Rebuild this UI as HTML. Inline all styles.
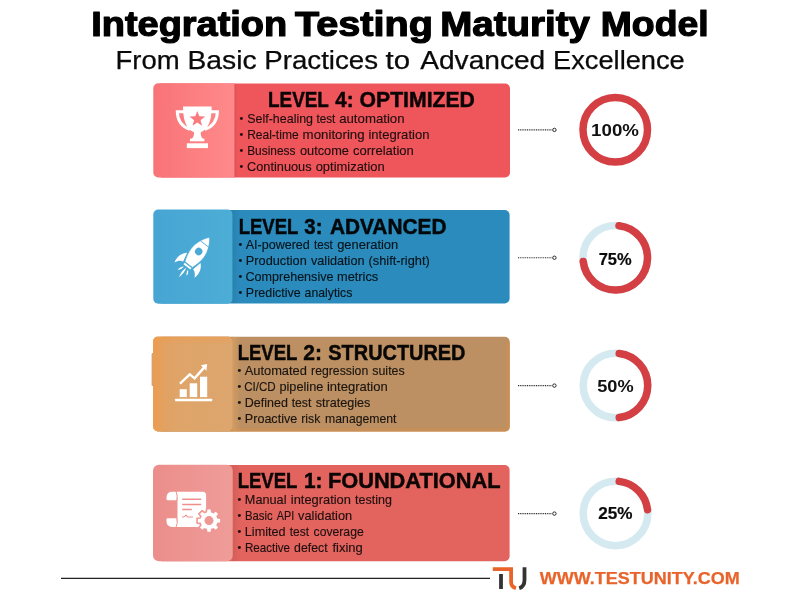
<!DOCTYPE html>
<html lang="en">
<head>
<meta charset="utf-8">
<title>Integration Testing Maturity Model</title>
<style>
html,body{margin:0;padding:0;background:#fff;}
body{width:800px;height:600px;overflow:hidden;position:relative;font-family:"Liberation Sans",sans-serif;}
svg{position:absolute;left:0;top:0;display:block;}
text{font-family:"Liberation Sans",sans-serif;}
.h{font-weight:700;font-size:22.2px;fill:#000;stroke:#000;stroke-width:.5px;opacity:.95;}
.b{font-size:12.2px;fill:#000;stroke:#000;stroke-width:.15px;opacity:.86;}
.p{font-weight:700;font-size:16.6px;fill:#0a0a0a;stroke:#0a0a0a;stroke-width:.2px;}
</style>
</head>
<body>
<svg width="800" height="600" viewBox="0 0 800 600">
<defs>
<linearGradient id="g1" x1="0" x2="1" y1="0" y2="0"><stop offset="0" stop-color="#f87377"/><stop offset="1" stop-color="#ff8a8b"/></linearGradient>
<linearGradient id="g2" x1="0" x2="1" y1="0" y2="0"><stop offset="0" stop-color="#47a5d3"/><stop offset="1" stop-color="#4cadd6"/></linearGradient>
<linearGradient id="g3" x1="0" x2="1" y1="0" y2="0"><stop offset="0" stop-color="#e3a05f"/><stop offset=".3" stop-color="#dfa468"/><stop offset="1" stop-color="#dca66e"/></linearGradient>
<linearGradient id="g4" x1="0" x2="1" y1="0" y2="0"><stop offset="0" stop-color="#ec8e8b"/><stop offset="1" stop-color="#ef9c99"/></linearGradient>
<linearGradient id="sh" x1="0" x2="1" y1="0" y2="0"><stop offset="0" stop-color="#000" stop-opacity=".07"/><stop offset="1" stop-color="#000" stop-opacity="0"/></linearGradient>
<linearGradient id="o3h" x1="0" x2="1" y1="0" y2="0"><stop offset="0" stop-color="#f39a45" stop-opacity=".6"/><stop offset="1" stop-color="#f39a45" stop-opacity="0"/></linearGradient>
<linearGradient id="o3v" x1="0" x2="0" y1="0" y2="1"><stop offset="0" stop-color="#f39a45" stop-opacity=".45"/><stop offset="1" stop-color="#f39a45" stop-opacity="0"/></linearGradient>
<clipPath id="c3"><rect x="153" y="336.6" width="79.6" height="94.9" rx="5"/></clipPath>
<linearGradient id="sh3" x1="0" x2="1" y1="0" y2="0"><stop offset="0" stop-color="#dca05f" stop-opacity=".7"/><stop offset="1" stop-color="#dca05f" stop-opacity="0"/></linearGradient>
</defs>

<!-- Box 1 -->
<rect x="157" y="83.5" width="353" height="94" rx="5" fill="#ef565c"/>
<rect x="234.3" y="83.5" width="3.5" height="94" fill="url(#sh)"/>
<path d="M158.3 83.2 H234.4 V177.5 H158.3 a5 5 0 0 1 -5 -5 V88.2 a5 5 0 0 1 5 -5 Z" fill="url(#g1)"/>
<!-- Box 2 -->
<rect x="157" y="210" width="352.6" height="93.5" rx="5" fill="#2b8bbd"/>
<rect x="232.2" y="210" width="8" height="93.5" fill="url(#sh)"/>
<rect x="153.3" y="209.5" width="79.1" height="94.2" rx="5" fill="url(#g2)"/>
<!-- Box 3 -->
<rect x="157" y="336.8" width="352.7" height="94.7" rx="5" fill="#bd9063"/>
<path d="M157 428.4 H504 Q506.6 428.4 506.6 425.8 V342 H509.7 V426.5 Q509.7 431.5 504.7 431.5 H157 Z" fill="#c98f56"/>
<rect x="232.5" y="336.8" width="8" height="94.7" fill="url(#sh3)"/>
<rect x="151.6" y="353" width="2.4" height="33" rx="1" fill="#c9a47d"/>
<rect x="153" y="336.6" width="79.6" height="94.9" rx="5" fill="url(#g3)"/>
<g clip-path="url(#c3)"><rect x="153" y="336.6" width="12" height="94.9" fill="url(#o3h)"/><rect x="153" y="336.6" width="80" height="8" fill="url(#o3v)"/></g>
<!-- Box 4 -->
<rect x="157" y="465" width="352.6" height="96.2" rx="5" fill="#e3645f"/>
<rect x="232.5" y="465" width="8" height="96.2" fill="url(#sh)"/>
<rect x="153" y="464.7" width="79.7" height="96.6" rx="6" fill="url(#g4)"/>

<!-- Icons -->
<g id="trophy" fill="#fff">
<path d="M183 106.5 H211.7 C211.7 122 207.6 129.5 200.7 132.3 C200.5 135 201.3 137.5 203 139 H191.7 C193.4 137.5 194.2 135 194 132.3 C187.1 129.5 183 122 183 106.5 Z"/>
<path d="M184 111.7 H177.3 C177.5 120 181 126.4 190 129.4" fill="none" stroke="#fff" stroke-width="3"/>
<path d="M210.7 111.7 H217.4 C217.2 120 213.7 126.4 204.7 129.4" fill="none" stroke="#fff" stroke-width="3"/>
<rect x="190" y="138.6" width="14.4" height="2.7"/>
<rect x="186.8" y="143.3" width="21.2" height="4.8"/>
<path d="M197.30 110.90 L199.30 116.35 L205.10 116.57 L200.53 120.15 L202.12 125.73 L197.30 122.50 L192.48 125.73 L194.07 120.15 L189.50 116.57 L195.30 116.35Z" fill="#fb7a7f"/>
</g>
<g id="rocket" transform="translate(198.7 251.5) rotate(37.5)" fill="#fff">
<path d="M-8.4 8 C-13.2 12 -14.2 18 -12.6 23.4 C-11 20 -9 18 -6.3 17.4 Z"/>
<path d="M8.4 8 C13.2 12 14.2 18 12.6 23.4 C11 20 9 18 6.3 17.4 Z"/>
<path d="M0 -17.9 C3 -14.5 7.8 -7 7.8 2 C7.8 8 6 13 4.8 16.5 H-4.8 C-6 13 -7.8 8 -7.8 2 C-7.8 -7 -3 -14.5 0 -17.9 Z" stroke="#4aaad5" stroke-width=".7"/>
<path d="M-5.2 -9.5 H5.2" stroke="#4aaad5" stroke-width=".8"/>
<rect x="-4.3" y="17.4" width="8.6" height="2"/>
<circle cx="0" cy="0" r="3.7" fill="#4aaad5"/>
<path d="M0 20.6 C1.4 24 1.2 28 0 32.6 C-1.2 28 -1.4 24 0 20.6 Z"/>
<path d="M-2.6 21 C-2.6 23.5 -3.6 25.8 -5.4 27.6 C-5.6 25 -4.6 22.6 -2.6 21 Z"/>
<path d="M2.6 21 C2.6 23.5 3.6 25 5.2 26.6 C5.5 24.6 4.6 22.6 2.6 21 Z"/>
</g>
<g id="chart" fill="#fff">
<rect x="175.1" y="398.7" width="37.1" height="2.6" rx=".6"/>
<rect x="179.7" y="389.2" width="7.1" height="7.9"/>
<rect x="189.7" y="383.3" width="7.5" height="13.8"/>
<rect x="200" y="376.7" width="7.2" height="20.4"/>
<path d="M180 383.6 L189.8 374.3 L194.6 378.3 L204 367.6" fill="none" stroke="#fff" stroke-width="2.4" stroke-linejoin="miter"/>
<path d="M207.2 364 L206.4 370.8 L200.9 365.3 Z"/>
</g>
<g id="scroll" fill="#fff">
<path d="M176.6 491.8 H202.6 Q206.1 491.8 206.1 495.3 V526.9 H176.6 Q178.3 523 177.5 518 V501 Q178.3 496 176.6 491.8 Z"/>
<path d="M175.6 491.8 Q177.5 496 176.3 500.3 H167.8 Q166.5 500.3 166.5 499 V497.6 Q166.5 491.8 172.3 491.8 Z"/>
<path d="M175.6 526.9 Q177.5 522.6 176.3 518.3 H167.8 Q166.5 518.3 166.5 519.6 V521.1 Q166.5 526.9 172.3 526.9 Z"/>
<g stroke="#ee8f8d" stroke-width="1.5" fill="none">
<path d="M182.2 499.2 H201.2 M182.2 504.4 H201.2 M182.2 509.4 H191.8"/>
<path d="M182.2 517.2 L184.5 516.6 L186 515 L187.6 517 H193" stroke-width="1.1"/>
</g>
<path d="M206.34 511.79 L206.62 508.73 L211.38 508.73 L211.66 511.79 L213.42 512.52 L215.78 510.56 L219.14 513.92 L217.18 516.28 L217.91 518.04 L220.97 518.32 L220.97 523.08 L217.91 523.36 L217.18 525.12 L219.14 527.48 L215.78 530.84 L213.42 528.88 L211.66 529.61 L211.38 532.67 L206.62 532.67 L206.34 529.61 L204.58 528.88 L202.22 530.84 L198.86 527.48 L200.82 525.12 L200.09 523.36 L197.03 523.08 L197.03 518.32 L200.09 518.04 L200.82 516.28 L198.86 513.92 L202.22 510.56 L204.58 512.52Z" stroke="#ee9795" stroke-width="1.6" stroke-linejoin="round"/>
<circle cx="209" cy="520.6" r="4.5" fill="#ee9795"/>
</g>

<!-- Text -->
<text y="36.0" font-weight="700" font-size="34.5" fill="#000" stroke="#000" stroke-width="1.2" stroke-linejoin="round"><tspan x="91.23" textLength="196.01" lengthAdjust="spacingAndGlyphs">Integration</tspan> <tspan x="295.0" textLength="137.93" lengthAdjust="spacingAndGlyphs">Testing</tspan> <tspan x="440.19" textLength="149.76" lengthAdjust="spacingAndGlyphs">Maturity</tspan> <tspan x="600.77" textLength="107.84" lengthAdjust="spacingAndGlyphs">Model</tspan></text>
<text y="68.6" font-size="25.5" fill="#0a0a0a" stroke="#0a0a0a" stroke-width=".25"><tspan x="115.48" textLength="64.12" lengthAdjust="spacingAndGlyphs">From</tspan> <tspan x="187.41" textLength="69.2" lengthAdjust="spacingAndGlyphs">Basic</tspan> <tspan x="264.26" textLength="113.78" lengthAdjust="spacingAndGlyphs">Practices</tspan> <tspan x="385.52" textLength="24.54" lengthAdjust="spacingAndGlyphs">to</tspan> <tspan x="420.23" textLength="125.03" lengthAdjust="spacingAndGlyphs">Advanced</tspan> <tspan x="553.0" textLength="131.78" lengthAdjust="spacingAndGlyphs">Excellence</tspan></text>
<text y="107.3" class="h"><tspan x="268.08" textLength="60.39" lengthAdjust="spacingAndGlyphs">LEVEL</tspan> <tspan x="335.25" textLength="18.2" lengthAdjust="spacingAndGlyphs">4:</tspan> <tspan x="359.59" textLength="115.3" lengthAdjust="spacingAndGlyphs">OPTIMIZED</tspan></text>
<text y="233.9" class="h"><tspan x="238.7" textLength="59.37" lengthAdjust="spacingAndGlyphs">LEVEL</tspan> <tspan x="304.33" textLength="18.11" lengthAdjust="spacingAndGlyphs">3:</tspan> <tspan x="329.92" textLength="116.55" lengthAdjust="spacingAndGlyphs">ADVANCED</tspan></text>
<text y="359.8" class="h"><tspan x="237.7" textLength="59.37" lengthAdjust="spacingAndGlyphs">LEVEL</tspan> <tspan x="303.19" textLength="18.7" lengthAdjust="spacingAndGlyphs">2:</tspan> <tspan x="328.34" textLength="137.1" lengthAdjust="spacingAndGlyphs">STRUCTURED</tspan></text>
<text y="487.65" class="h"><tspan x="237.7" textLength="59.37" lengthAdjust="spacingAndGlyphs">LEVEL</tspan> <tspan x="303.95" textLength="18.53" lengthAdjust="spacingAndGlyphs">1:</tspan> <tspan x="327.89" textLength="172.73" lengthAdjust="spacingAndGlyphs">FOUNDATIONAL</tspan></text>
<text y="122.8" class="b"><tspan x="239.55" dy="-0.9" font-size="10.8">•</tspan> <tspan x="247.29" dy="0.9" textLength="65.74" lengthAdjust="spacingAndGlyphs">Self-healing</tspan> <tspan x="316.47" textLength="18.81" lengthAdjust="spacingAndGlyphs">test</tspan> <tspan x="339.16" textLength="65.41" lengthAdjust="spacingAndGlyphs">automation</tspan></text>
<text y="138.9" class="b"><tspan x="239.55" dy="-0.9" font-size="10.8">•</tspan> <tspan x="247.14" dy="0.9" textLength="51.48" lengthAdjust="spacingAndGlyphs">Real-time</tspan> <tspan x="302.64" textLength="62.03" lengthAdjust="spacingAndGlyphs">monitoring</tspan> <tspan x="368.46" textLength="61.0" lengthAdjust="spacingAndGlyphs">integration</tspan></text>
<text y="154.8" class="b"><tspan x="239.55" dy="-0.9" font-size="10.8">•</tspan> <tspan x="247.15" dy="0.9" textLength="48.25" lengthAdjust="spacingAndGlyphs">Business</tspan> <tspan x="299.98" textLength="48.97" lengthAdjust="spacingAndGlyphs">outcome</tspan> <tspan x="352.97" textLength="60.79" lengthAdjust="spacingAndGlyphs">correlation</tspan></text>
<text y="170.7" class="b"><tspan x="239.55" dy="-0.9" font-size="10.8">•</tspan> <tspan x="247.08" dy="0.9" textLength="64.45" lengthAdjust="spacingAndGlyphs">Continuous</tspan> <tspan x="315.67" textLength="69.08" lengthAdjust="spacingAndGlyphs">optimization</tspan></text>
<text y="249.2" class="b"><tspan x="238.55" dy="-0.9" font-size="10.8">•</tspan> <tspan x="245.67" dy="0.9" textLength="64.15" lengthAdjust="spacingAndGlyphs">AI-powered</tspan> <tspan x="314.07" textLength="18.81" lengthAdjust="spacingAndGlyphs">test</tspan> <tspan x="337.17" textLength="61.08" lengthAdjust="spacingAndGlyphs">generation</tspan></text>
<text y="265.2" class="b"><tspan x="238.55" dy="-0.9" font-size="10.8">•</tspan> <tspan x="245.83" dy="0.9" textLength="60.91" lengthAdjust="spacingAndGlyphs">Production</tspan> <tspan x="310.97" textLength="53.56" lengthAdjust="spacingAndGlyphs">validation</tspan> <tspan x="368.57" textLength="61.21" lengthAdjust="spacingAndGlyphs">(shift-right)</tspan></text>
<text y="281.2" class="b"><tspan x="238.55" dy="-0.9" font-size="10.8">•</tspan> <tspan x="245.49" dy="0.9" textLength="87.95" lengthAdjust="spacingAndGlyphs">Comprehensive</tspan> <tspan x="336.97" textLength="41.25" lengthAdjust="spacingAndGlyphs">metrics</tspan></text>
<text y="297.2" class="b"><tspan x="238.55" dy="-0.9" font-size="10.8">•</tspan> <tspan x="245.85" dy="0.9" textLength="54.78" lengthAdjust="spacingAndGlyphs">Predictive</tspan> <tspan x="304.59" textLength="47.72" lengthAdjust="spacingAndGlyphs">analytics</tspan></text>
<text y="375.2" class="b"><tspan x="237.55" dy="-0.9" font-size="10.8">•</tspan> <tspan x="244.67" dy="0.9" textLength="62.27" lengthAdjust="spacingAndGlyphs">Automated</tspan> <tspan x="311.11" textLength="57.1" lengthAdjust="spacingAndGlyphs">regression</tspan> <tspan x="372.28" textLength="32.43" lengthAdjust="spacingAndGlyphs">suites</tspan></text>
<text y="391.2" class="b"><tspan x="237.55" dy="-0.9" font-size="10.8">•</tspan> <tspan x="244.13" dy="0.9" textLength="31.6" lengthAdjust="spacingAndGlyphs">CI/CD</tspan> <tspan x="279.48" textLength="43.86" lengthAdjust="spacingAndGlyphs">pipeline</tspan> <tspan x="326.96" textLength="60.79" lengthAdjust="spacingAndGlyphs">integration</tspan></text>
<text y="407.2" class="b"><tspan x="237.55" dy="-0.9" font-size="10.8">•</tspan> <tspan x="244.85" dy="0.9" textLength="43.08" lengthAdjust="spacingAndGlyphs">Defined</tspan> <tspan x="291.68" textLength="19.71" lengthAdjust="spacingAndGlyphs">test</tspan> <tspan x="315.68" textLength="54.64" lengthAdjust="spacingAndGlyphs">strategies</tspan></text>
<text y="423.2" class="b"><tspan x="237.55" dy="-0.9" font-size="10.8">•</tspan> <tspan x="244.84" dy="0.9" textLength="52.39" lengthAdjust="spacingAndGlyphs">Proactive</tspan> <tspan x="301.31" textLength="19.02" lengthAdjust="spacingAndGlyphs">risk</tspan> <tspan x="325.11" textLength="71.37" lengthAdjust="spacingAndGlyphs">management</tspan></text>
<text y="504.2" class="b"><tspan x="237.55" dy="-0.9" font-size="10.8">•</tspan> <tspan x="244.83" dy="0.9" textLength="41.63" lengthAdjust="spacingAndGlyphs">Manual</tspan> <tspan x="290.87" textLength="60.08" lengthAdjust="spacingAndGlyphs">integration</tspan> <tspan x="355.07" textLength="36.95" lengthAdjust="spacingAndGlyphs">testing</tspan></text>
<text y="520.3" class="b"><tspan x="237.55" dy="-0.9" font-size="10.8">•</tspan> <tspan x="244.94" dy="0.9" textLength="27.76" lengthAdjust="spacingAndGlyphs">Basic</tspan> <tspan x="276.68" textLength="17.53" lengthAdjust="spacingAndGlyphs">API</tspan> <tspan x="298.07" textLength="54.07" lengthAdjust="spacingAndGlyphs">validation</tspan></text>
<text y="536.2" class="b"><tspan x="237.55" dy="-0.9" font-size="10.8">•</tspan> <tspan x="244.84" dy="0.9" textLength="40.7" lengthAdjust="spacingAndGlyphs">Limited</tspan> <tspan x="289.77" textLength="19.31" lengthAdjust="spacingAndGlyphs">test</tspan> <tspan x="313.59" textLength="50.12" lengthAdjust="spacingAndGlyphs">coverage</tspan></text>
<text y="552.2" class="b"><tspan x="237.55" dy="-0.9" font-size="10.8">•</tspan> <tspan x="244.92" dy="0.9" textLength="45.18" lengthAdjust="spacingAndGlyphs">Reactive</tspan> <tspan x="294.09" textLength="33.49" lengthAdjust="spacingAndGlyphs">defect</tspan> <tspan x="332.47" textLength="30.28" lengthAdjust="spacingAndGlyphs">fixing</tspan></text>
<text y="135.5" class="p" style="stroke-width:0;fill:#111"><tspan x="591.13" textLength="47.83" lengthAdjust="spacingAndGlyphs">100%</tspan></text>
<text y="264.8" class="p"><tspan x="598.69" textLength="32.95" lengthAdjust="spacingAndGlyphs">75%</tspan></text>
<text y="391.9" class="p" style="stroke-width:0;fill:#111"><tspan x="597.22" textLength="36.44" lengthAdjust="spacingAndGlyphs">50%</tspan></text>
<text y="519.4" class="p"><tspan x="598.16" textLength="34.28" lengthAdjust="spacingAndGlyphs">25%</tspan></text>
<text y="583.7" font-weight="700" font-size="16.7" fill="#e8642b" stroke="#e8642b" stroke-width=".25"><tspan x="539.73" textLength="199.98" lengthAdjust="spacingAndGlyphs">WWW.TESTUNITY.COM</tspan></text>

<!-- Connectors -->
<g stroke="#2a2a2a" stroke-width="1.1" fill="#fff">
<line x1="518" y1="129.9" x2="552.4" y2="129.9" stroke-dasharray="1 .8"/><circle cx="554.4" cy="129.9" r="1.7" stroke-width="1"/>
<line x1="518" y1="257.75" x2="552.4" y2="257.75" stroke-dasharray="1 .8"/><circle cx="554.4" cy="257.75" r="1.7" stroke-width="1"/>
<line x1="518" y1="385.6" x2="552.4" y2="385.6" stroke-dasharray="1 .8"/><circle cx="554.4" cy="385.6" r="1.7" stroke-width="1"/>
<line x1="518" y1="513.6" x2="552.4" y2="513.6" stroke-dasharray="1 .8"/><circle cx="554.4" cy="513.6" r="1.7" stroke-width="1"/>
</g>

<!-- Rings -->
<g fill="none" stroke-width="7.5">
<circle cx="615.25" cy="129.75" r="32.25" stroke="#d33f43"/>
<circle cx="615.25" cy="257.75" r="32.25" stroke="#d4e9f0"/>
<path d="M618.99 225.72 A32.25 32.25 0 1 1 583.22 261.49" stroke="#d33f43" stroke-linecap="round"/>
<circle cx="615.5" cy="385.45" r="32.25" stroke="#d4e9f0"/>
<path d="M619.24 353.42 A32.25 32.25 0 0 1 619.24 417.48" stroke="#d33f43" stroke-linecap="round"/>
<circle cx="615.5" cy="513.4" r="32.25" stroke="#d4e9f0"/>
<path d="M619.24 481.37 A32.25 32.25 0 0 1 647.53 509.66" stroke="#d33f43" stroke-linecap="round"/>
</g>

<!-- Footer -->
<line x1="61" y1="578.4" x2="490" y2="578.4" stroke="#222" stroke-width="1.4"/>
<g fill="none" stroke-width="3.8">
<path d="M492.8 569.1 H511.1 V582 Q511.1 587 516 588.2" stroke="#e8642b"/>
<path d="M501 574 V589" stroke="#333"/>
<path d="M524.5 567.2 V580 Q524.5 586.5 519.2 588.3" stroke="#333"/>
</g>
</svg>
</body>
</html>
